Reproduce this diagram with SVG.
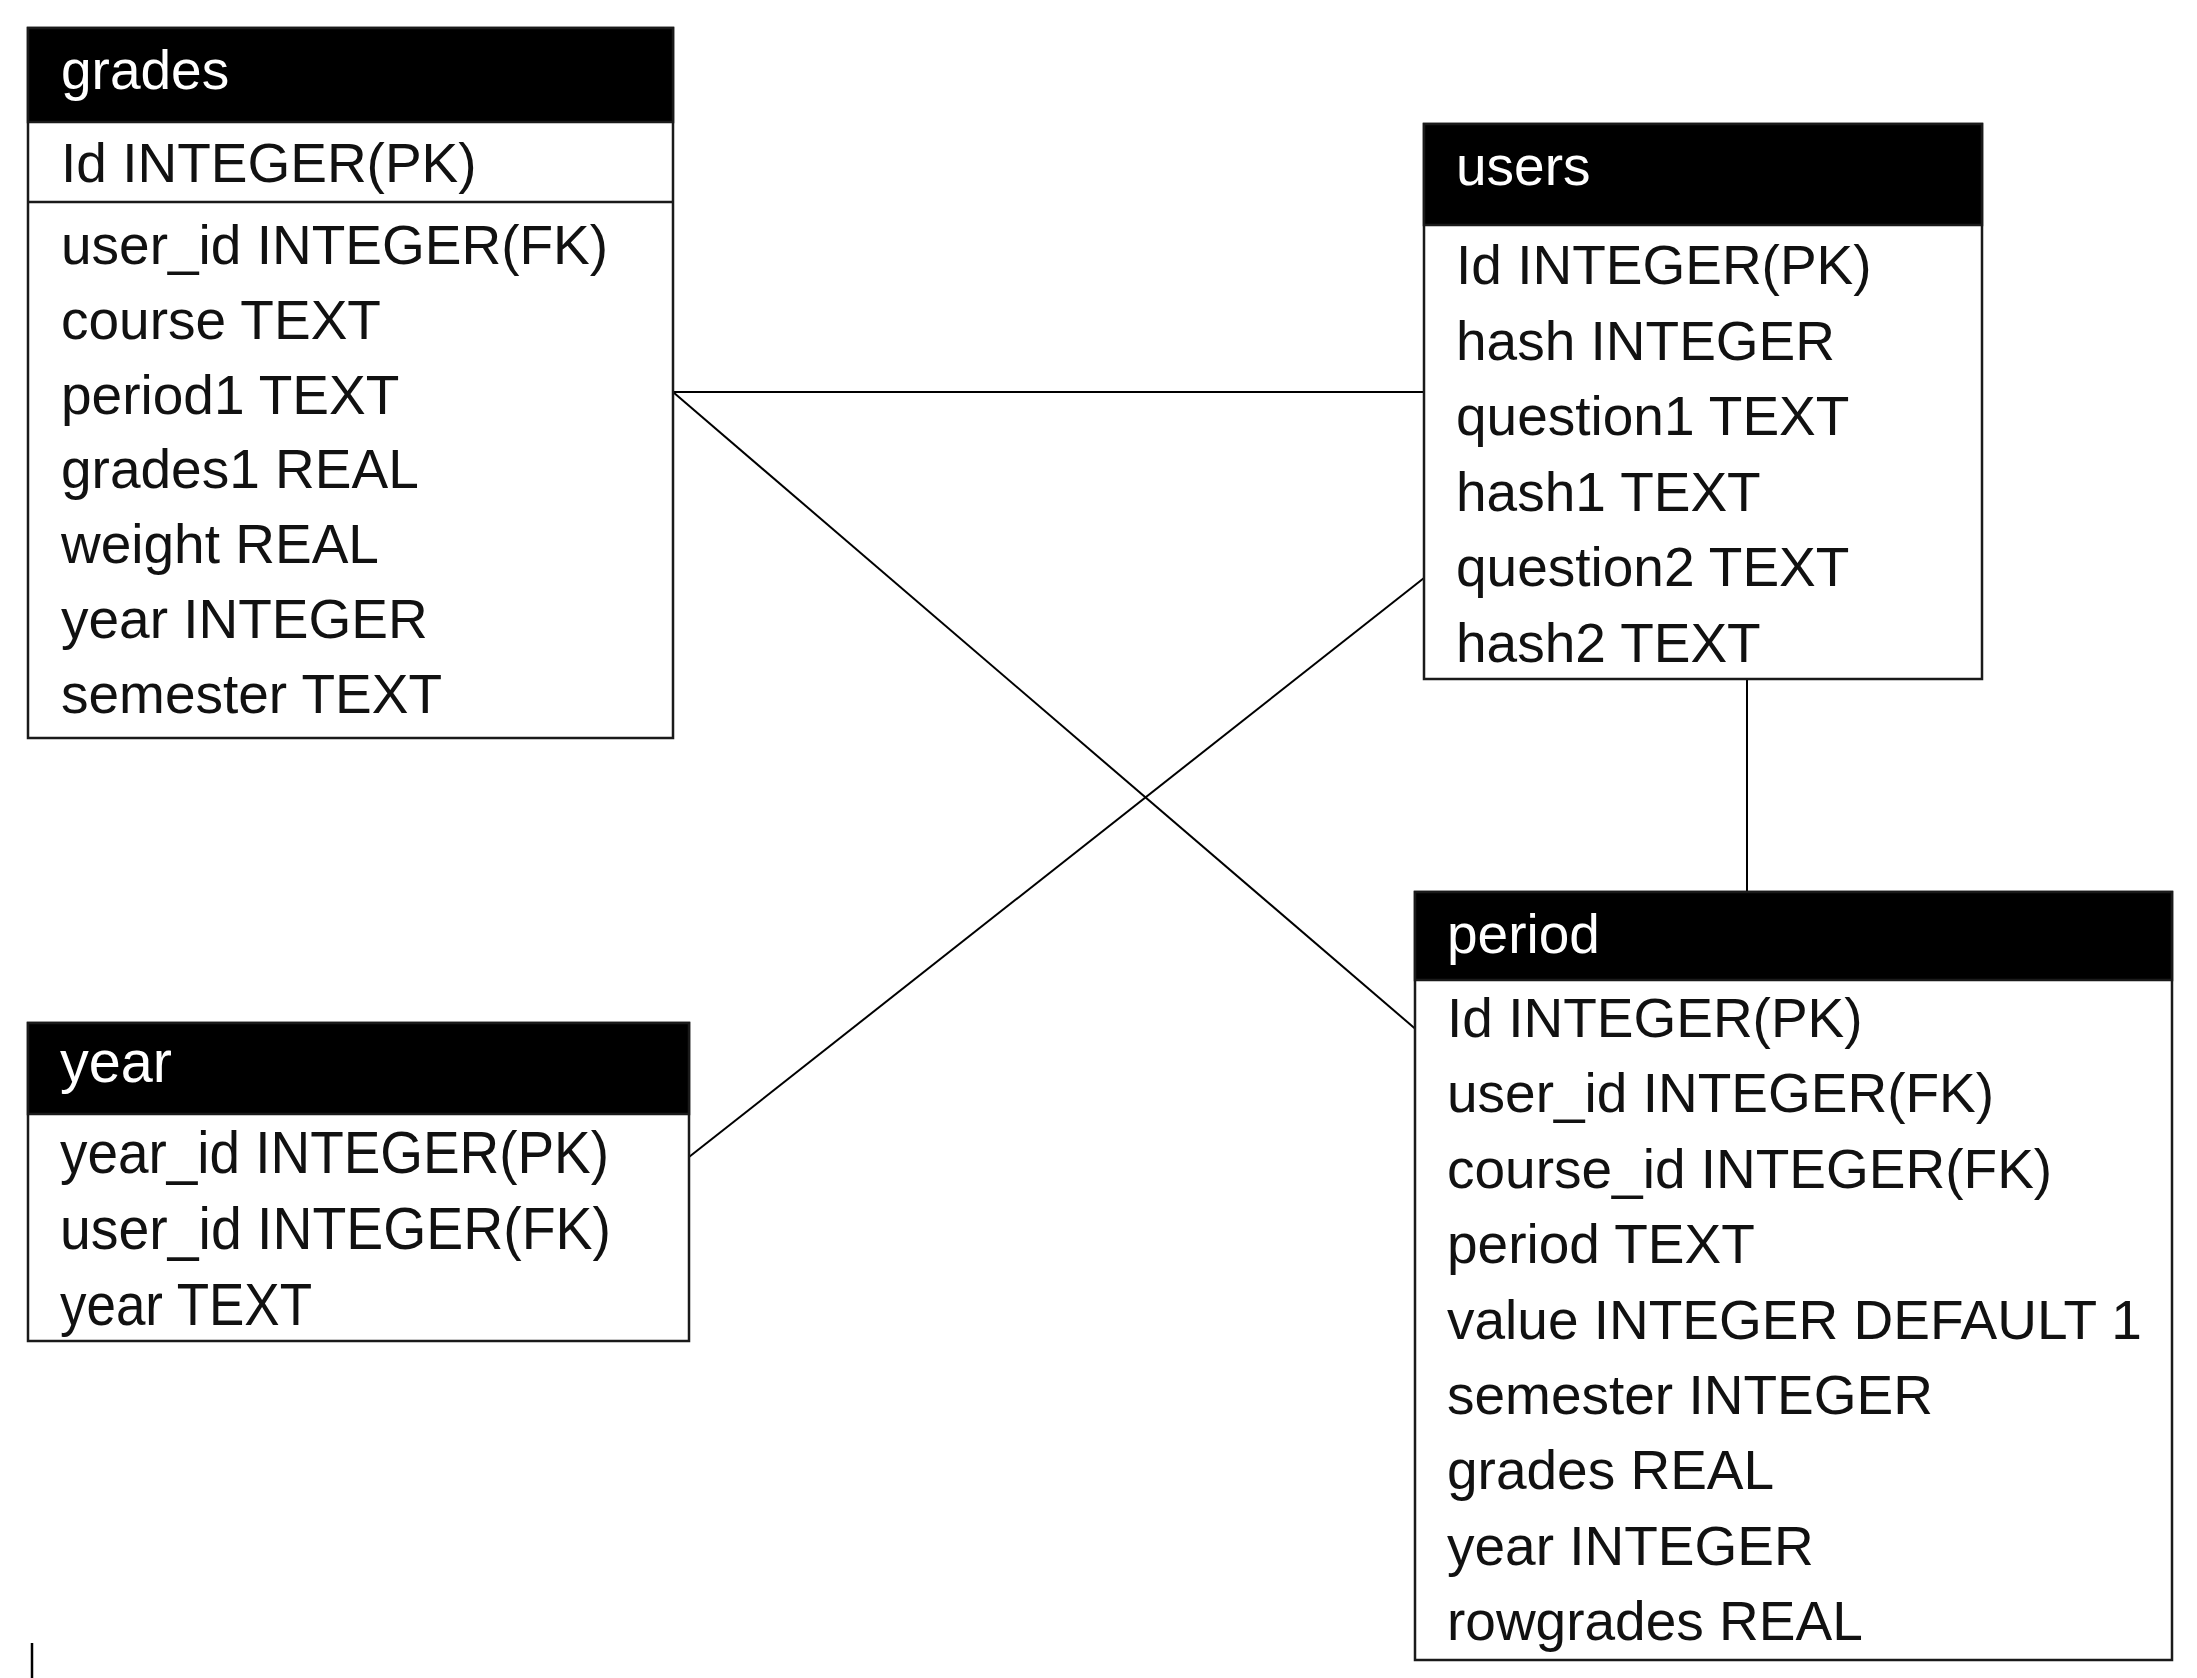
<svg xmlns="http://www.w3.org/2000/svg" width="2197" height="1678" viewBox="0 0 2197 1678">
<style>
  .box { fill: #ffffff; stroke: #1a1a1a; stroke-width: 2.5; }
  .hdr { fill: #000000; stroke: #1a1a1a; stroke-width: 2.5; }
  .sep { stroke: #1a1a1a; stroke-width: 2.5; }
  .t { font-family: "Liberation Sans", Arial, sans-serif; font-size: 55px; fill: #111111; }
  .h { font-family: "Liberation Sans", Arial, sans-serif; font-size: 55px; fill: #ffffff; }
  .ty { font-family: "Liberation Sans", Arial, sans-serif; font-size: 59px; fill: #111111; }
  .hy { font-family: "Liberation Sans", Arial, sans-serif; font-size: 59px; fill: #ffffff; }
  .conn line { stroke: #000000; stroke-width: 2; fill: none; }
</style>
<rect x="0" y="0" width="2197" height="1678" fill="#ffffff"/>

<g id="connectors" class="conn">
  <line x1="673" y1="392" x2="1424" y2="392"/>
  <line x1="673" y1="392" x2="1419" y2="1032"/>
  <line x1="689" y1="1157" x2="1424" y2="578"/>
  <line x1="1747" y1="679" x2="1747" y2="892"/>
</g>

<g id="grades">
  <rect class="box" x="28" y="28" width="645" height="710"/>
  <rect class="hdr" x="28" y="28" width="645" height="94"/>
  <line class="sep" x1="28" y1="202" x2="673" y2="202"/>
  <text class="h" x="61" y="89">grades</text>
  <text class="t" x="61" y="182">Id INTEGER(PK)</text>
  <text class="t" x="61" y="264">user_id INTEGER(FK)</text>
  <text class="t" x="61" y="339">course TEXT</text>
  <text class="t" x="61" y="414">period1 TEXT</text>
  <text class="t" x="61" y="488">grades1 REAL</text>
  <text class="t" x="61" y="563">weight REAL</text>
  <text class="t" x="61" y="638">year INTEGER</text>
  <text class="t" x="61" y="713">semester TEXT</text>
</g>

<g id="users">
  <rect class="box" x="1424" y="124" width="558" height="555"/>
  <rect class="hdr" x="1424" y="124" width="558" height="101"/>
  <text class="h" x="1456" y="185">users</text>
  <text class="t" x="1456" y="284">Id INTEGER(PK)</text>
  <text class="t" x="1456" y="360">hash INTEGER</text>
  <text class="t" x="1456" y="435">question1 TEXT</text>
  <text class="t" x="1456" y="511">hash1 TEXT</text>
  <text class="t" x="1456" y="586">question2 TEXT</text>
  <text class="t" x="1456" y="662">hash2 TEXT</text>
</g>

<g id="period">
  <rect class="box" x="1415" y="892" width="757" height="768"/>
  <rect class="hdr" x="1415" y="892" width="757" height="88"/>
  <text class="h" x="1447" y="953">period</text>
  <text class="t" x="1447" y="1037">Id INTEGER(PK)</text>
  <text class="t" x="1447" y="1112">user_id INTEGER(FK)</text>
  <text class="t" x="1447" y="1188">course_id INTEGER(FK)</text>
  <text class="t" x="1447" y="1263">period TEXT</text>
  <text class="t" x="1447" y="1339">value INTEGER DEFAULT 1</text>
  <text class="t" x="1447" y="1414">semester INTEGER</text>
  <text class="t" x="1447" y="1489">grades REAL</text>
  <text class="t" x="1447" y="1565">year INTEGER</text>
  <text class="t" x="1447" y="1640">rowgrades REAL</text>
</g>

<g id="year">
  <rect class="box" x="28" y="1023" width="661" height="318"/>
  <rect class="hdr" x="28" y="1023" width="661" height="91"/>
  <text class="hy" x="60" y="1082" textLength="112" lengthAdjust="spacingAndGlyphs">year</text>
  <text class="ty" x="60" y="1173" textLength="549" lengthAdjust="spacingAndGlyphs">year_id INTEGER(PK)</text>
  <text class="ty" x="60" y="1249" textLength="551" lengthAdjust="spacingAndGlyphs">user_id INTEGER(FK)</text>
  <text class="ty" x="60" y="1325" textLength="252" lengthAdjust="spacingAndGlyphs">year TEXT</text>
</g>

<line x1="32" y1="1643" x2="32" y2="1678" stroke="#000000" stroke-width="2.5"/>
</svg>
